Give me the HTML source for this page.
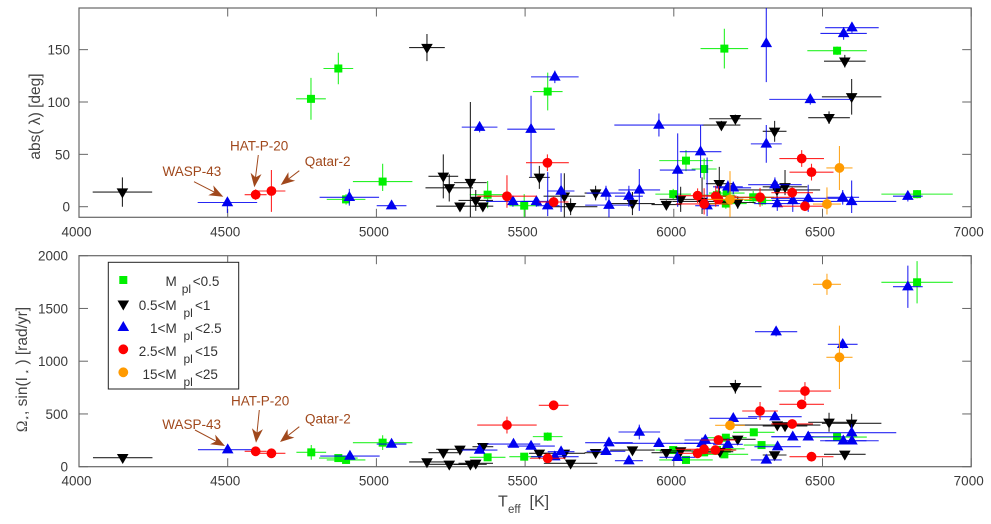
<!DOCTYPE html>
<html>
<head>
<meta charset="utf-8">
<title>Stellar obliquity and rotation vs effective temperature</title>
<style>
html,body{margin:0;padding:0;background:#fff;width:991px;height:524px;overflow:hidden}
svg{display:block;filter:blur(0.3px)}
text{font-family:"Liberation Sans",sans-serif;fill:#3a3a3a}
.tick{font-size:13.5px}
.ann{font-size:13.5px;fill:#a0481c}
.leg{font-size:13.5px;fill:#333}
.lab{font-size:15.5px;fill:#444}
</style>
</head>
<body>
<svg id="chart" xmlns="http://www.w3.org/2000/svg" width="991" height="524" viewBox="0 0 991 524">
  <defs>
    <clipPath id="clip-top"><rect x="79" y="8" width="892" height="209.3"/></clipPath>
    <clipPath id="clip-bottom"><rect x="79" y="255.7" width="892" height="211"/></clipPath>
  </defs>
  <rect width="991" height="524" fill="#fff"/>
  <g id="layer-top"></g>
  <g id="layer-bottom"></g>

  <text class="lab" transform="translate(40,116.5) rotate(-90)" text-anchor="middle">abs( λ) [deg]</text>
  <text class="lab" transform="translate(27,369.5) rotate(-90)" text-anchor="middle"><tspan font-family="Liberation Serif">Ω</tspan><tspan font-size="9" dy="3">⋆</tspan><tspan dy="-3">, sin(I</tspan><tspan font-size="9" dy="3"> ⋆</tspan><tspan dy="-3"> )  [rad/yr]</tspan></text>
  <g>
    <text class="lab" x="498" y="506.7" style="font-size:16px">T</text>
    <text class="lab" x="508" y="513" style="font-size:11.5px">eff</text>
    <text class="lab" x="529.5" y="506.7" style="font-size:16px">[K]</text>
  </g>

  <g>
    <text class="ann" x="162.5" y="176">WASP-43</text>
    <text class="ann" x="230" y="150.5">HAT-P-20</text>
    <text class="ann" x="304.7" y="166">Qatar-2</text>
  </g>
  <g>
    <text class="ann" x="162.3" y="429">WASP-43</text>
    <text class="ann" x="231" y="405.5">HAT-P-20</text>
    <text class="ann" x="305" y="423.3">Qatar-2</text>
  </g>
  <g id="layer-arrows"></g>

  <g>
    <rect x="108.3" y="262.3" width="130.4" height="126.7" fill="#fff" stroke="#222" stroke-width="1"/>
    <g>
      <rect x="119.3" y="276" width="8" height="8" fill="#00f000"/>
      <text class="leg" x="176.7" y="286" text-anchor="end">M</text><text class="leg" x="181.7" y="293" style="font-size:12px">pl</text><text class="leg" x="192.7" y="286">&lt;0.5</text>
    </g>
    <g>
      <path d="M117.5 300.5h11.6l-5.8 10z" fill="#000"/>
      <text class="leg" x="176.7" y="310" text-anchor="end">0.5&lt;M</text><text class="leg" x="183.5" y="317" style="font-size:12px">pl</text><text class="leg" x="195" y="310">&lt;1</text>
    </g>
    <g>
      <path d="M117.5 331h11.6l-5.8 -10z" fill="#0000f0"/>
      <text class="leg" x="176.7" y="333" text-anchor="end">1&lt;M</text><text class="leg" x="183.5" y="340" style="font-size:12px">pl</text><text class="leg" x="195" y="333">&lt;2.5</text>
    </g>
    <g>
      <circle cx="123.3" cy="349.3" r="4.9" fill="#ff0000"/>
      <text class="leg" x="176.7" y="356" text-anchor="end">2.5&lt;M</text><text class="leg" x="183.5" y="363" style="font-size:12px">pl</text><text class="leg" x="195" y="356">&lt;15</text>
    </g>
    <g>
      <circle cx="123.3" cy="372.3" r="4.9" fill="#ff9a00"/>
      <text class="leg" x="176.7" y="379" text-anchor="end">15&lt;M</text><text class="leg" x="183.5" y="386" style="font-size:12px">pl</text><text class="leg" x="195" y="379">&lt;25</text>
    </g>
  </g>
</svg>

<script>
const xTicks = [4000, 4500, 5000, 5500, 6000, 6500, 7000];
const lambdaTicks = [0, 50, 100, 150];
const omegaTicks = [0, 500, 1000, 1500, 2000];

/* top panel: abs(lambda) */
const greenTeffTop = [4780,4872,5021,4898,5374,5497,5576,5998,6041,6102,6170,6175,6145,6178,6267,6297,6549,6818];
const greenTeffErrTop = [50,50,100,65,60,50,50,60,90,42,80,70,60,60,70,60,100,120];
const greenLambda = [103,132,24,7,11.5,1,110,12,44,36,151,3,11,13,9,6,149,12];
const greenLambdaUp = [20,15,17,5,13,11,18,5,10,10,19,5,5,5,6,5,4,4];
const greenLambdaLow = [20,15,9,5,13,11,18,5,10,10,19,5,5,5,6,5,4,4];

const blackTeffTop = [4146,5170,5225,5245,5281,5316,5334,5358,5548,5632,5653,5737,5861,5975,6023,6095,6153,6215,6160,6207,6339,6347,6374,6522,6575,6598];
const blackTeffErrTop = [100,60,50,80,80,55,58,35,35,70,90,37,75,50,70,100,45,60,64,88,40,145,75,70,70,100];
const blackLambda = [14,152,29,18,0.5,23,6,0.5,28,10,0,13,3,2,7,5,22,4,78,84,72,16,19,85,139,105];
const blackLambdaUp = [14,13,21,13,3,77,10,3,11,22,8,7,11,4,12,23,16,6,4,4,10,8,16,6,6,17];
const blackLambdaLow = [14,13,21,13,3,33,10,3,11,22,8,7,11,4,12,12,16,6,4,4,10,8,8,6,6,17];

const blueTeffTop = [4499,4909,5051,5347,5520,5600,5459,5538,5576,5621,5772,5782,5849,5884,5950,6013,6090,6112,6182,6200,6311,6311,6340,6348,6400,6452,6459,6568,6598,6571,6599,6787];
const blueTeffErrTop = [100,100,50,60,80,80,90,50,40,45,65,80,47,70,150,60,70,40,50,60,5,52,90,78,70,125,138,55,150,78,90,50];
const blueLambda = [4,9,1,76,74,124,5,5,1,15,13,1.5,10,16,78,35,52.5,1,19,18,156,60,21,3,6,8,102.5,9,5,165.5,171,10];
const blueLambdaUp = [4,8,3,5,32,6,5,5,32,17,7,12,10,20,11,35,25,46,6,6,40,18,7,7,7,13,5,7,20,6,5,5];
const blueLambdaLow = [10,8,3,5,46,6,5,5,10,20,7,12,10,20,11,35,25,10,6,6,37,18,7,7,11,13,5,7,11,6,5,5];

const redTeffTop = [4594,4647,5575,5439,5596,6080,6102,6141,6150,6290,6398,6441,6430,6463];
const redTeffErrTop = [37,47,72,100,50,65,95,70,60,100,70,85,75,74];
const redLambda = [11.5,15,42,10,4.5,10.5,2.6,10,7,9,13.4,0.5,46,33];
const redLambdaUp = [5,20,8,20,5,7,15,10,13,9,5,4,8,8];
const redLambdaLow = [5,20,8,11,5,7,10,10,3,9,5,4,8,8];

const orangeTeffTop = [6189,6515,6557];
const orangeTeffErrTop = [75,47,44];
const orangeLambda = [7,2.5,37];
const orangeLambdaUp = [27,16,21];
const orangeLambdaLow = [17,10,21];

/* bottom panel: Omega sin(I) */
const greenTeffBottom = [4781,4872,4898,5021,5374,5497,5576,5998,6041,6102,6145,6178,6170,6175,6269,6295,6549,6818];
const greenTeffErrBottom = [50,65,65,100,60,50,50,60,90,42,60,60,80,70,70,60,100,120];
const greenOmega = [136,82,64,228,89,95,285,158,64,136,158,170,117,275,326,205,281,1748];
const greenOmegaErr = [70,20,20,70,15,20,40,30,15,30,20,20,20,30,20,20,20,200];

const blackTeffBottom = [4147,5170,5225,5245,5281,5316,5334,5358,5548,5632,5653,5737,5861,5975,6023,6155,6215,6207,6339,6348,6374,6522,6575,6598];
const blackTeffErrBottom = [100,60,50,80,80,55,58,35,35,70,90,37,75,50,70,45,60,88,40,145,75,70,70,100];
const blackOmega = [85,45,133,23,165,23,32,190,127,127,32,133,158,133,149,142,260,758,111,395,386,421,117,411];
const blackOmegaErr = [15,20,30,15,30,15,15,15,20,20,15,20,20,15,20,20,30,65,15,30,30,90,15,90];

const blueTeffBottom = [4500,4911,5051,5347,5520,5461,5621,5600,5772,5782,5849,5884,5950,6012,6106,6095,6182,6200,6311,6344,6340,6349,6400,6452,6568,6598,6570,6599,6787];
const blueTeffErrBottom = [100,100,50,60,80,90,45,80,65,80,47,70,150,60,70,60,50,80,52,71,90,78,70,125,50,150,78,90,50];
const blueOmega = [161,101,215,158,196,215,142,95,146,228,57,329,222,89,253,222,212,459,64,1280,474,190,284,284,1160,322,246,246,1706];
const blueOmegaErr = [15,15,20,30,15,15,30,15,15,20,15,70,20,15,30,25,20,20,15,45,30,20,15,15,40,80,15,15,200];

const redTeffBottom = [4594,4647,5439,5596,5576,6080,6102,6140,6150,6290,6398,6441,6430,6463];
const redTeffErrBottom = [37,47,100,50,60,65,95,70,60,60,70,88,75,74];
const redOmega = [146,127,395,582,80,127,165,158,253,528,405,717,591,95];
const redOmegaErr = [20,15,80,30,15,20,20,20,20,85,30,85,20,15];

const orangeTeffBottom = [6189,6515,6557];
const orangeTeffErrBottom = [50,47,44];
const orangeOmega = [392,1729,1037];
const orangeOmegaErr = [15,100,300];

const NS = 'http://www.w3.org/2000/svg';

function xPos(t){ return 79 + (t - 4000) * 0.2974; }
function yTop(v){ return 206.7 - v * 1.047; }
function yBottom(v){ return 466.7 - v * 0.1055; }

function node(parent, tag, attrs){
  const el = document.createElementNS(NS, tag);
  for (const k in attrs) el.setAttribute(k, attrs[k]);
  parent.appendChild(el);
  return el;
}

function drawAxes(layer, box, yFn, yVals, labelRight, prefix){
  const frame = node(layer, 'rect', {x:box.l, y:box.t, width:box.r-box.l, height:box.b-box.t, fill:'none', stroke:'#666', 'stroke-width':1.2});
  
  
  xTicks.forEach(function(t){
    const x = xPos(t);
    const tb = node(layer, 'line', {x1:x, x2:x, y1:box.b, y2:box.b-8.5, stroke:'#666', 'stroke-width':1});
    
    
    const tt = node(layer, 'line', {x1:x, x2:x, y1:box.t, y2:box.t+8.5, stroke:'#666', 'stroke-width':1});
    
    
    const lab = node(layer, 'text', {x:x-2.5, y:box.b+19, 'text-anchor':'middle', class:'tick'});
    lab.textContent = t;
    
    
  });
  yVals.forEach(function(v){
    const y = yFn(v);
    const tl = node(layer, 'line', {x1:box.l, x2:box.l+9, y1:y, y2:y, stroke:'#666', 'stroke-width':1});
    
    
    const tr = node(layer, 'line', {x1:box.r, x2:box.r-9, y1:y, y2:y, stroke:'#666', 'stroke-width':1});
    
    
    const lab = node(layer, 'text', {x:labelRight, y:y+5, 'text-anchor':'end', class:'tick'});
    lab.textContent = v;
    
    
  });
}

function drawMarker(g, shape, x, y, color){
  let m;
  if (shape === 'square') m = node(g, 'rect', {x:x-4, y:y-4, width:8, height:8, fill:color});
  if (shape === 'down') m = node(g, 'path', {d:'M'+(x-5.8)+' '+(y-3.7)+'h11.6l-5.8 10z', fill:color});
  if (shape === 'up') m = node(g, 'path', {d:'M'+(x-5.8)+' '+(y+3.7)+'h11.6l-5.8 -10z', fill:color});
  if (shape === 'circle') m = node(g, 'circle', {cx:x, cy:y, r:4.9, fill:color});
  return m;
}

function drawSeries(layer, name, shape, color, teff, teffErr, vals, up, low, yFn, clip){
  const g = node(layer, 'g', {});
  
  
  const bars = node(g, 'g', {'clip-path':'url(#' + clip + ')', stroke:color, 'stroke-width':1.1, 'stroke-opacity':0.85});
  
  
  teff.forEach(function(t, i){
    const x = xPos(t), y = yFn(vals[i]);
    const h = node(bars, 'line', {x1:xPos(t-teffErr[i]), x2:xPos(t+teffErr[i]), y1:y, y2:y});
    
    
    const v = node(bars, 'line', {x1:x, x2:x, y1:yFn(vals[i]+up[i]), y2:yFn(vals[i]-low[i])});
    
    
  });
  teff.forEach(function(t, i){
    const m = drawMarker(g, shape, xPos(t), yFn(vals[i]), color);
    
    
  });
}

function drawArrow(layer, x1, y1, x2, y2, name){
  const c = '#a0481c';
  const dx = x2-x1, dy = y2-y1, len = Math.hypot(dx,dy), ux = dx/len, uy = dy/len;
  const g = node(layer, 'g', {});
  
  
  node(g, 'line', {x1:x1, y1:y1, x2:x2-ux*8, y2:y2-uy*8, stroke:c, 'stroke-width':1});
  const bx = x2-ux*14, by = y2-uy*14, nx = x2-ux*10, ny = y2-uy*10;
  const pts = [[x2,y2],[bx-uy*5.5,by+ux*5.5],[nx,ny],[bx+uy*5.5,by-ux*5.5]].map(function(p){return p[0].toFixed(1)+','+p[1].toFixed(1);}).join(' ');
  node(g, 'polygon', {points:pts, fill:c});
}

const topLayer = document.getElementById('layer-top');
const bottomLayer = document.getElementById('layer-bottom');
const arrowLayer = document.getElementById('layer-arrows');

drawAxes(topLayer, {l:79, r:971.2, t:8, b:217.3}, yTop, lambdaTicks, 70, 'top');
drawAxes(bottomLayer, {l:79, r:971.2, t:255.7, b:466.7}, yBottom, omegaTicks, 68, 'bottom');

drawSeries(topLayer, 'green-top', 'square', '#00f000', greenTeffTop, greenTeffErrTop, greenLambda, greenLambdaUp, greenLambdaLow, yTop, 'clip-top');
drawSeries(topLayer, 'black-top', 'down', '#000000', blackTeffTop, blackTeffErrTop, blackLambda, blackLambdaUp, blackLambdaLow, yTop, 'clip-top');
drawSeries(topLayer, 'blue-top', 'up', '#0000f0', blueTeffTop, blueTeffErrTop, blueLambda, blueLambdaUp, blueLambdaLow, yTop, 'clip-top');
drawSeries(topLayer, 'red-top', 'circle', '#ff0000', redTeffTop, redTeffErrTop, redLambda, redLambdaUp, redLambdaLow, yTop, 'clip-top');
drawSeries(topLayer, 'orange-top', 'circle', '#ff9a00', orangeTeffTop, orangeTeffErrTop, orangeLambda, orangeLambdaUp, orangeLambdaLow, yTop, 'clip-top');

drawSeries(bottomLayer, 'green-bottom', 'square', '#00f000', greenTeffBottom, greenTeffErrBottom, greenOmega, greenOmegaErr, greenOmegaErr, yBottom, 'clip-bottom');
drawSeries(bottomLayer, 'black-bottom', 'down', '#000000', blackTeffBottom, blackTeffErrBottom, blackOmega, blackOmegaErr, blackOmegaErr, yBottom, 'clip-bottom');
drawSeries(bottomLayer, 'blue-bottom', 'up', '#0000f0', blueTeffBottom, blueTeffErrBottom, blueOmega, blueOmegaErr, blueOmegaErr, yBottom, 'clip-bottom');
drawSeries(bottomLayer, 'red-bottom', 'circle', '#ff0000', redTeffBottom, redTeffErrBottom, redOmega, redOmegaErr, redOmegaErr, yBottom, 'clip-bottom');
drawSeries(bottomLayer, 'orange-bottom', 'circle', '#ff9a00', orangeTeffBottom, orangeTeffErrBottom, orangeOmega, orangeOmegaErr, orangeOmegaErr, yBottom, 'clip-bottom');

drawArrow(arrowLayer, 194, 181.7, 223.3, 196.7, 'arrow-wasp-43-top');
drawArrow(arrowLayer, 258.3, 155, 254.3, 187.3, 'arrow-hat-p-20-top');
drawArrow(arrowLayer, 299.3, 170.7, 280.7, 185, 'arrow-qatar-2-top');
drawArrow(arrowLayer, 195, 430, 225, 446, 'arrow-wasp-43-bottom');
drawArrow(arrowLayer, 259.3, 410, 256, 442.7, 'arrow-hat-p-20-bottom');
drawArrow(arrowLayer, 299.3, 426.7, 280, 442, 'arrow-qatar-2-bottom');
</script>
</body>
</html>
